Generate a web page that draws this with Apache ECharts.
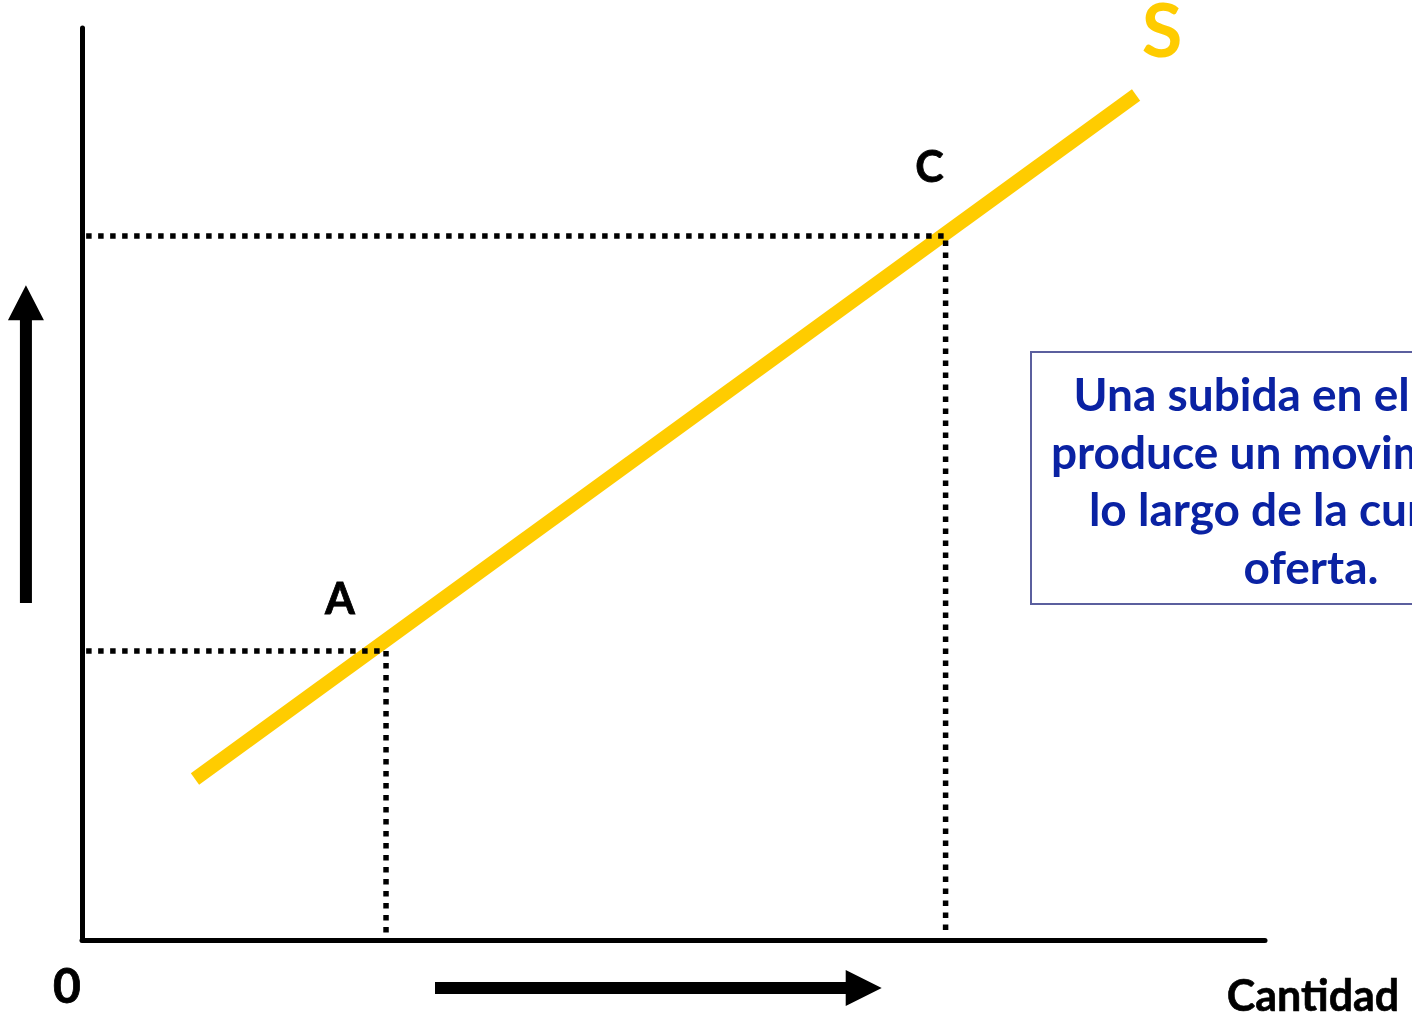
<!DOCTYPE html>
<html>
<head>
<meta charset="utf-8">
<style>
html,body{margin:0;padding:0;background:#fff;}
#chart{width:1412px;height:1023px;}
</style>
<script src="https://cdn.jsdelivr.net/npm/echarts@6/dist/echarts.min.js"></script>
</head>
<body>
<div id="chart"></div>
<script>
// Data (axis units: 0..100 on both axes)
const supplyX = [9.55, 89.1];
const supplyY = [17.65, 92.65];
const pointNames = ['A', 'C'];
const pointX = [25.7, 73.0];
const pointY = [31.7, 77.2];
const curveLabel = 'S';
const originLabel = '0';
const xAxisLabel = 'Cantidad';
const boxLines = ['Una subida en el precio', 'produce un movimiento a', 'lo largo de la curva de', 'oferta.'];
// arrows in axis units: [x0, y0, x1, y1]
const upArrow = [-4.74, 36.95, -4.74, 71.8];
const rightArrow = [29.84, -5.26, 67.6, -5.26];

const FONT = 'Lato, "Open Sans", sans-serif';
const chart = echarts.init(document.getElementById('chart'));

const series = [{
  type: 'line',
  data: supplyX.map((x, i) => [x, supplyY[i]]),
  symbol: 'none',
  lineStyle: { color: '#FFCC00', width: 14, cap: 'butt' },
  silent: true,
  z: 2
}];
pointX.forEach((px, i) => {
  series.push({
    type: 'line',
    data: [[0.35, pointY[i]], [px, pointY[i]], [px, 0.4]],
    symbol: 'none',
    lineStyle: { color: '#000', width: 5.5, type: [5.5, 6.5], cap: 'butt' },
    silent: true,
    z: 3
  });
});

chart.setOption({
  animation: false,
  backgroundColor: '#fff',
  grid: { left: 82, top: 28, width: 1183, height: 912, containLabel: false },
  xAxis: {
    type: 'value', min: 0, max: 100,
    axisLine: { show: true, onZero: false, lineStyle: { color: '#000', width: 5 } },
    axisTick: { show: false }, axisLabel: { show: false }, splitLine: { show: false }
  },
  yAxis: {
    type: 'value', min: 0, max: 100,
    axisLine: { show: true, onZero: false, lineStyle: { color: '#000', width: 5 } },
    axisTick: { show: false }, axisLabel: { show: false }, splitLine: { show: false }
  },
  series: series
});

function P(x, y) { return chart.convertToPixel({ gridIndex: 0 }, [x, y]); }

function arrowShape(a, shaftW, headW, headL) {
  const p0 = P(a[0], a[1]), p1 = P(a[2], a[3]);
  const dx = p1[0] - p0[0], dy = p1[1] - p0[1];
  const L = Math.hypot(dx, dy);
  const ux = dx / L, uy = dy / L, nx = -uy, ny = ux;
  const bx = p1[0] - ux * headL, by = p1[1] - uy * headL;
  const s = shaftW / 2, h = headW / 2;
  return [
    [p0[0] + nx * s, p0[1] + ny * s],
    [bx + nx * s, by + ny * s],
    [bx + nx * h, by + ny * h],
    [p1[0], p1[1]],
    [bx - nx * h, by - ny * h],
    [bx - nx * s, by - ny * s],
    [p0[0] - nx * s, p0[1] - ny * s]
  ];
}

const g = [];
g.push({ type: 'polygon', shape: { points: arrowShape(upArrow, 12, 36, 35) }, style: { fill: '#000' }, silent: true });
g.push({ type: 'polygon', shape: { points: arrowShape(rightArrow, 12, 36, 36) }, style: { fill: '#000' }, silent: true });

// point labels
const labelOffsets = [[-46, -51], [-16, -68]];
pointNames.forEach((n, i) => {
  const p = P(pointX[i], pointY[i]);
  g.push({ type: 'text', x: p[0] + labelOffsets[i][0], y: p[1] + labelOffsets[i][1],
    style: { text: n, font: 'bold 43px ' + FONT, fill: '#000', stroke: '#000', lineWidth: 0.8, align: 'center', verticalAlign: 'middle' }, silent: true });
});
const sEnd = P(supplyX[1], supplyY[1]);
g.push({ type: 'text', x: sEnd[0] + 26, y: sEnd[1] - 62,
  style: { text: curveLabel, font: 'bold 74px ' + FONT, fill: '#FFCC00', align: 'center', verticalAlign: 'middle' }, silent: true });
const o = P(0, 0);
g.push({ type: 'text', x: o[0] - 15, y: o[1] + 48,
  style: { text: originLabel, font: 'bold 48px ' + FONT, fill: '#000', stroke: '#000', lineWidth: 0.8, align: 'center', verticalAlign: 'middle' }, silent: true });
const xe = P(100, 0);
g.push({ type: 'text', x: xe[0] + 48, y: xe[1] + 57,
  style: { text: xAxisLabel, font: 'bold 43px ' + FONT, fill: '#000', stroke: '#000', lineWidth: 0.6, align: 'center', verticalAlign: 'middle' }, silent: true });

// text box
g.push({ type: 'rect', shape: { x: 1031, y: 352, width: 560, height: 252 },
  style: { fill: '#fff', stroke: '#5B5F9E', lineWidth: 2 }, silent: true, z: 10 });
boxLines.forEach((t, i) => {
  g.push({ type: 'text', x: 1311, y: 396 + i * 57.7,
    style: { text: t, font: 'bold 46px ' + FONT, fill: '#0A22A3', align: 'center', verticalAlign: 'middle' }, silent: true, z: 11 });
});

chart.setOption({ graphic: g });
</script>
</body>
</html>
